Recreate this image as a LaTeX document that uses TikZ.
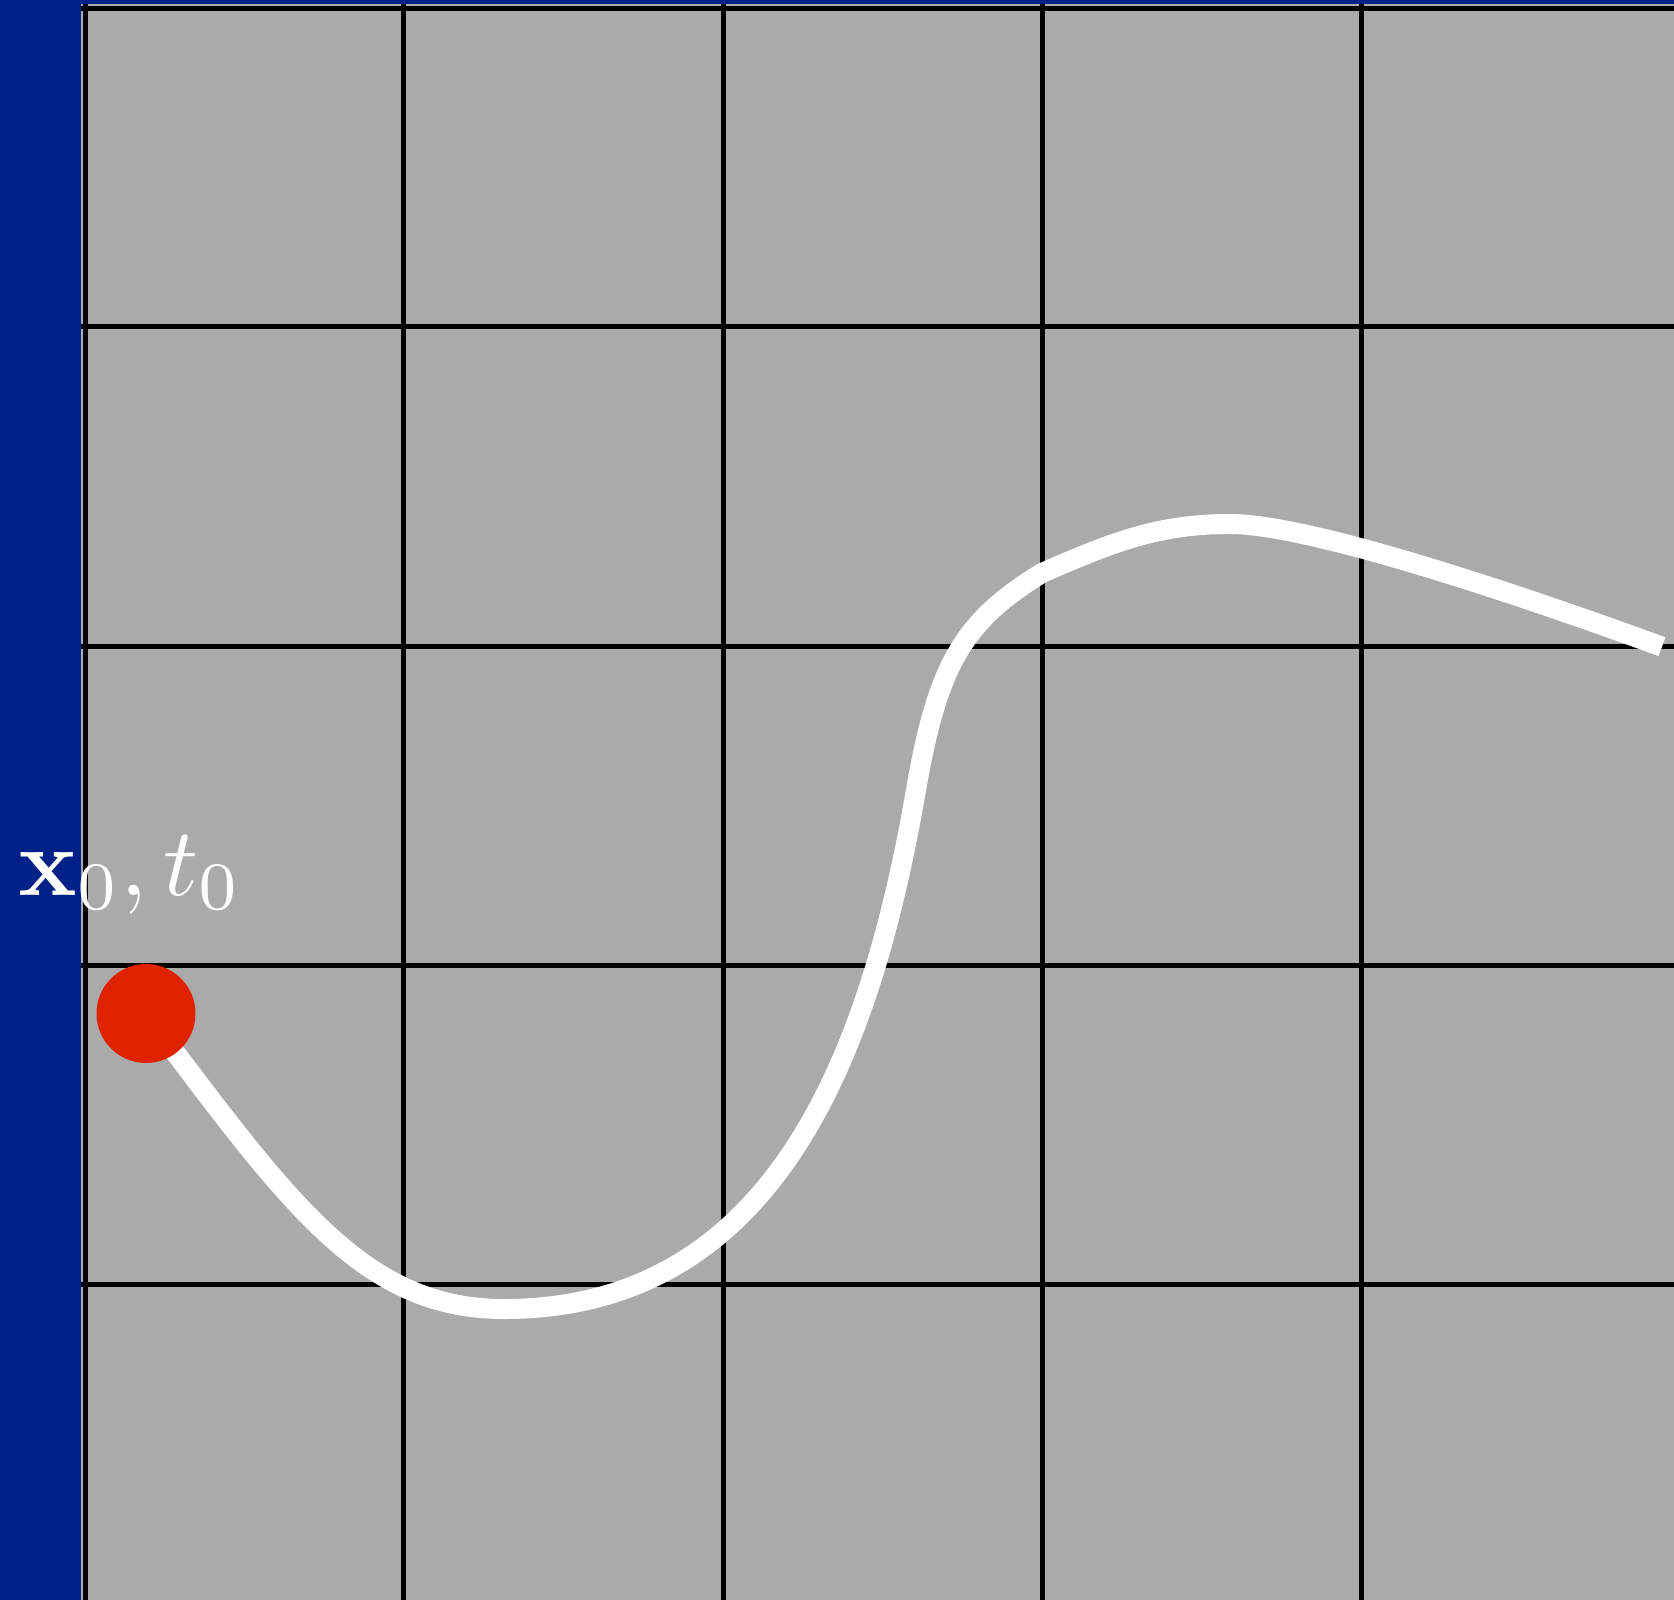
\documentclass[tikz,border=0pt]{standalone}
\usepackage{graphicx}
\definecolor{bgblue}{RGB}{0,34,136}
\definecolor{cellgrey}{RGB}{170,170,170}
\definecolor{dotred}{RGB}{224,34,0}
\begin{document}
\begin{tikzpicture}[x=1pt,y=-1pt,
  gridline/.style={line width=5pt,black},
  trajectory/.style={white,line width=20pt,line cap=butt,line join=round},
  startdot/.style={circle,fill=dotred,draw=none,minimum size=99pt,inner sep=0pt},
  labeltext/.style={text=white,inner sep=0pt,anchor=base west}]
\fill[bgblue] (0,0) rectangle (1674,1600);
\useasboundingbox (0,0) rectangle (1674,1600);
\fill[cellgrey] (81,4) rectangle (1674,1600);
\begin{scope}
  \clip (81,4) rectangle (1674,1600);
  \foreach \x in {85,403.5,723,1042,1361} \draw[gridline] (\x,4) -- (\x,1600);
  \foreach \y in {8.5,326,646,965,1284.5} \draw[gridline] (81,\y) -- (1674,\y);
\end{scope}
\coordinate (start) at (146,1013.5);
\coordinate (low) at (504,1309);
\coordinate (steep) at (916,790);
\coordinate (shoulder) at (1042,573);
\coordinate (peak) at (1230,524);
\coordinate (finish) at (1662,646.7);
\draw[trajectory] (start)
  .. controls (290,1205.5) and (364,1309) .. (low)
  .. controls (774,1309) and (870.1,1056) .. (steep)
  .. controls (937.6,664.9) and (963,621.4) .. (shoulder)
  .. controls (1114.8,541) and (1160,524) .. (peak)
  .. controls (1310,524) and (1521,595.2) .. (finish);
\node[startdot] (x0) at (start) {};
\node[labeltext] (lbl) at (18,895) {\scalebox{9.7}{$\mathbf{x}_0, t_0$}};
\end{tikzpicture}
\end{document}
